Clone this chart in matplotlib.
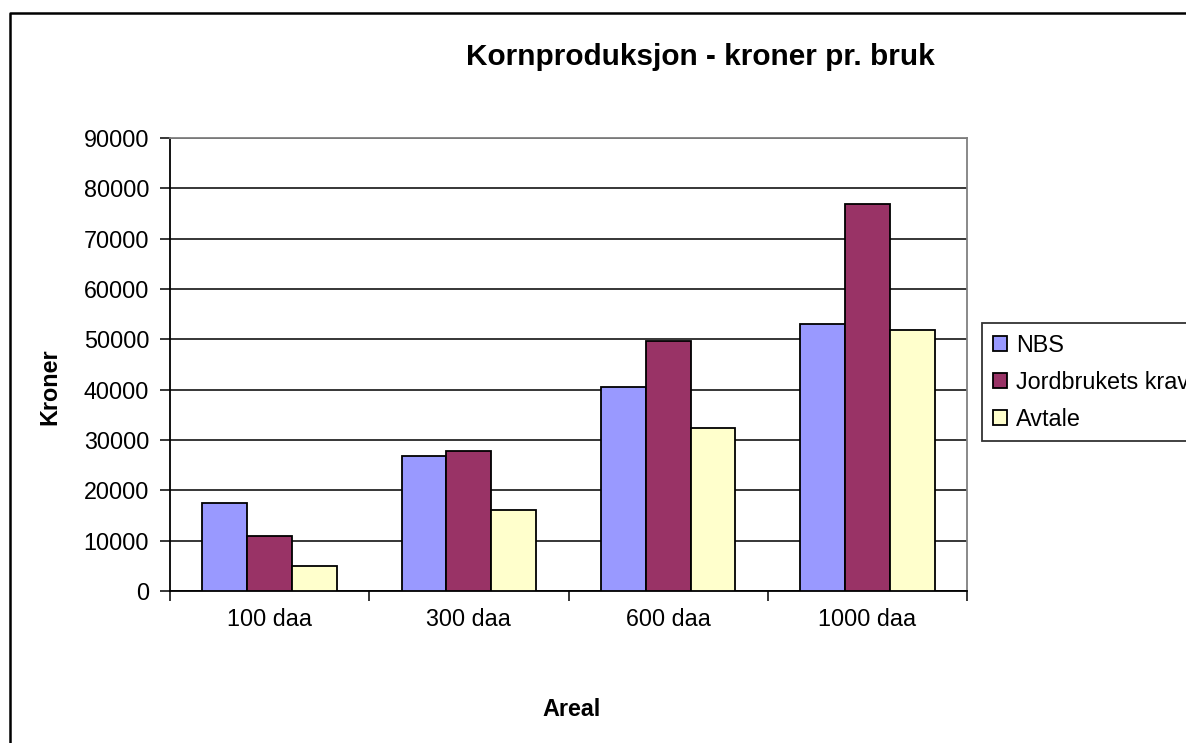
import numpy as np
import matplotlib
matplotlib.use("Agg")
import matplotlib.pyplot as plt
from matplotlib.lines import Line2D

plt.rcParams["font.family"] = ["Liberation Sans", "DejaVu Sans"]

# Data
categories = ["100 daa", "300 daa", "600 daa", "1000 daa"]
nbs = [17400, 26800, 40600, 53000]
jordbruk = [11000, 27900, 49600, 76900]
avtale = [5000, 16000, 32400, 51800]
series_names = ["NBS", "Jordbrukets krav", "Avtale"]
colors = ["#9999FF", "#993366", "#FFFFCC"]
yticks = np.arange(0, 90001, 10000)

fig = plt.figure(figsize=(11.86, 7.43), dpi=100)
ax = fig.add_axes([170 / 1186, 1 - 591 / 743, (967 - 170) / 1186, (591 - 138) / 743])

x = np.arange(len(categories))
w = 0.225
for i, (vals, name, col) in enumerate(zip([nbs, jordbruk, avtale], series_names, colors)):
    ax.bar(x + (i - 1) * w, vals, width=w, color=col, edgecolor="black",
           linewidth=1.3, label=name, zorder=3)

ax.set_xlim(-0.5, len(categories) - 0.5)
ax.set_ylim(0, 90000)
ax.set_yticks(yticks)
ax.set_yticklabels([str(v) for v in yticks], fontsize=16.8)
ax.yaxis.grid(True, color="black", linewidth=1.1, zorder=0)

# category boundaries as ticks, labels in the middle
ax.set_xticks(np.arange(-0.5, len(categories), 1.0))
ax.set_xticklabels([])
ax.set_xticks(x, minor=True)
ax.set_xticklabels(categories, minor=True, fontsize=16.8)
ax.tick_params(axis="x", which="major", length=7, width=1.1, direction="out")
ax.tick_params(axis="x", which="minor", length=0, pad=12)
ax.tick_params(axis="y", length=7, width=1.1, pad=8)

for s in ["left", "bottom"]:
    ax.spines[s].set_color("black")
    ax.spines[s].set_linewidth(1.3)
for s in ["top", "right"]:
    ax.spines[s].set_color("#808080")
    ax.spines[s].set_linewidth(1.3)

fig.text(700 / 1186, 1 - 57 / 743, "Kornproduksjon - kroner pr. bruk",
         ha="center", va="center", fontsize=21.4, fontweight="bold")
fig.text(572 / 1186, 1 - 710 / 743, "Areal", ha="center", va="center",
         fontsize=16.8, fontweight="bold")
fig.text(50 / 1186, 1 - 387 / 743, "Kroner", ha="center", va="center",
         rotation=90, fontsize=16.8, fontweight="bold")

leg = fig.legend(loc="upper left", bbox_to_anchor=(982 / 1186, 1 - 323 / 743),
                 fontsize=16.8, frameon=True, fancybox=False, edgecolor="black",
                 handlelength=0.62, handleheight=0.62, handletextpad=0.4,
                 labelspacing=0.6, borderpad=0.45, borderaxespad=0)
leg.get_frame().set_linewidth(1.3)

# outer chart border (cut off at the right and bottom)
fig.add_artist(Line2D([10 / 1186, 10 / 1186, 1.0], [0.0, 1 - 13 / 743, 1 - 13 / 743],
                      color="black", linewidth=1.8, transform=fig.transFigure))

fig.savefig("out.png", dpi=100)
